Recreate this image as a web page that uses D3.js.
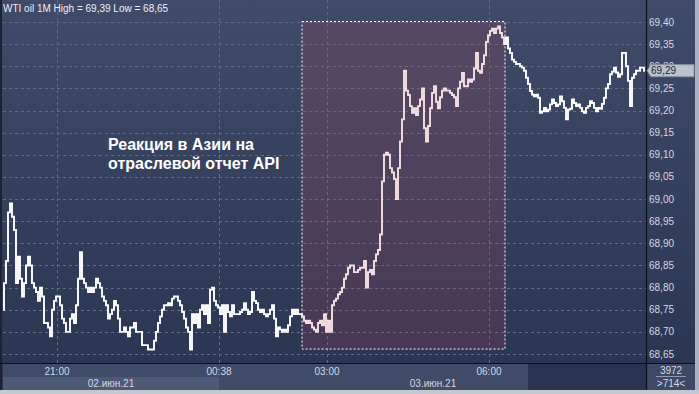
<!DOCTYPE html>
<html>
<head>
<meta charset="utf-8">
<script src="https://cdn.jsdelivr.net/npm/d3@7"></script>
<style>
  html, body { margin: 0; padding: 0; background: #2b3550; }
  svg { display: block; font-family: "Liberation Sans", Arial, sans-serif; }
</style>
</head>
<body>
<svg width="699" height="394"></svg>
<script>
// WTI 1-minute closes, one value per bar
const prices = [
  68.75, 68.81, 68.86, 68.97, 68.99, 68.96, 68.93, 68.81, 68.87, 68.82,
  68.78, 68.81, 68.85, 68.87, 68.85, 68.81, 68.80, 68.79, 68.77, 68.80,
  68.78, 68.72, 68.72, 68.71, 68.69, 68.75, 68.77, 68.78, 68.78, 68.76,
  68.73, 68.72, 68.70, 68.70, 68.73, 68.74, 68.72, 68.76, 68.82, 68.88,
  68.82, 68.81, 68.80, 68.79, 68.80, 68.79, 68.80, 68.82, 68.81, 68.80,
  68.78, 68.77, 68.76, 68.73, 68.74, 68.75, 68.77, 68.76, 68.73, 68.70,
  68.70, 68.71, 68.70, 68.69, 68.71, 68.71, 68.72, 68.70, 68.70, 68.70,
  68.67, 68.67, 68.67, 68.66, 68.66, 68.66, 68.68, 68.70, 68.72,
  68.735, 68.75, 68.76, 68.76, 68.765, 68.76, 68.775, 68.78, 68.78, 68.77,
  68.76, 68.745, 68.73, 68.71, 68.70, 68.66, 68.74, 68.72, 68.74, 68.71,
  68.75, 68.76, 68.74, 68.76, 68.72, 68.795, 68.80, 68.77, 68.76, 68.755,
  68.74, 68.76, 68.70, 68.76, 68.745, 68.735, 68.76, 68.74, 68.74, 68.74,
  68.745, 68.75, 68.765, 68.75, 68.74, 68.745, 68.79, 68.77, 68.765, 68.75,
  68.745, 68.75, 68.74, 68.735, 68.74, 68.75, 68.76, 68.73, 68.69, 68.71,
  68.705, 68.70, 68.705, 68.70, 68.715, 68.735, 68.75, 68.74, 68.75, 68.74,
  68.74, 68.735,
  68.725, 68.72, 68.725, 68.72, 68.71, 68.705, 68.70, 68.72, 68.725, 68.715,
  68.74, 68.70, 68.725, 68.70, 68.76, 68.77, 68.775, 68.785, 68.79, 68.80,
  68.82, 68.83, 68.845, 68.85, 68.85, 68.835, 68.835, 68.84, 68.845, 68.845,
  68.86, 68.80, 68.835, 68.84, 68.83, 68.86, 68.875, 68.885, 68.92, 69.04,
  69.10, 69.105, 69.10,
  69.07, 69.06, 69.045, 69.00, 69.07, 69.13, 69.18, 69.29, 69.245, 69.235,
  69.21, 69.195, 69.205, 69.19, 69.21, 69.225, 69.25, 69.16, 69.13, 69.165,
  69.205, 69.24, 69.255, 69.22, 69.205, 69.23, 69.245, 69.25, 69.245, 69.245,
  69.24, 69.235, 69.23, 69.21, 69.25, 69.265, 69.285, 69.255, 69.255, 69.27,
  69.265, 69.27, 69.295, 69.33, 69.29, 69.285, 69.305, 69.325, 69.355, 69.37,
  69.38, 69.385, 69.375, 69.385, 69.39, 69.375, 69.365, 69.35, 69.365, 69.34,
  69.33, 69.315, 69.31, 69.305,
  69.305, 69.30, 69.297, 69.29, 69.274, 69.26, 69.244, 69.236, 69.232, 69.236,
  69.229, 69.195, 69.198, 69.206, 69.198, 69.202, 69.214, 69.225, 69.217, 69.21,
  69.214, 69.232, 69.221, 69.206, 69.18, 69.202, 69.204, 69.225, 69.217, 69.21,
  69.214, 69.206, 69.198, 69.195, 69.206, 69.21, 69.221, 69.217, 69.206, 69.198,
  69.206, 69.204, 69.215, 69.229, 69.25, 69.26, 69.282, 69.288, 69.297, 69.286,
  69.276, 69.282, 69.33, 69.33, 69.30, 69.267, 69.21, 69.274, 69.282, 69.29,
  69.29, 69.297, 69.297, 69.29
]

const priceTicks = [69.40, 69.35, 69.30, 69.25, 69.20, 69.15, 69.10, 69.05,
  69.00, 68.95, 68.90, 68.85, 68.80, 68.75, 68.70, 68.65]
const timeTickIdx = [27, 108, 162, 243]
const timeTickLabels = ["21:00", "00:38", "03:00", "06:00"]
const dateIdx = [54, 215]
const dateLabels = ["02.июн.21", "03.июн.21"]
const dayBreakIdx = 108

const title = "WTI oil 1M High = 69,39 Low = 68,65"
const lastPrice = 69.29
const highlightIdx = [149.5, 251]
const highlightPrice = [68.66, 69.40]
const noteLines = ["Реакция в Азии на", "отраслевой отчет API"]
const counters = ["3972", ">714<"]

const svg = d3.select("svg")
const W = +svg.attr("width")
const H = +svg.attr("height")
const plot = { left: 3, right: 646, top: 0, bottom: 363 }

const x = d3.scaleLinear().domain([0, prices.length - 1]).range([3, 645])
const y = d3.scaleLinear().domain([68.65, 69.40]).range([354, 22])
const fmt = (v) => d3.format(".2f")(v).replace(".", ",")

const defs = svg.append("defs")
const bg = defs.append("linearGradient").attr("id", "bg").attr("x1", 0).attr("x2", 0).attr("y1", 0).attr("y2", 1)
bg.append("stop").attr("offset", 0).attr("stop-color", "#3f4b68")
bg.append("stop").attr("offset", 1).attr("stop-color", "#2b3652")

// backgrounds
svg.append("rect").attr("width", W).attr("height", H).attr("fill", "#2b3550")
svg.append("rect").attr("x", 0).attr("y", 0).attr("width", 695).attr("height", plot.bottom)
  .attr("fill", "url(#bg)")

// bottom time strip
svg.append("rect").attr("x", plot.left).attr("y", plot.bottom + 1).attr("width", 525).attr("height", 26)
  .attr("fill", "#3f4b67")
svg.append("rect").attr("x", plot.left).attr("y", 377).attr("width", x(dayBreakIdx) - plot.left).attr("height", 13)
  .attr("fill", "#4d5a76")
svg.append("rect").attr("x", 528).attr("y", plot.bottom + 1).attr("width", plot.right - 528).attr("height", 26)
  .attr("fill", "#2a3450")
svg.append("rect").attr("x", plot.right + 1).attr("y", plot.bottom + 1).attr("width", 695 - plot.right - 1).attr("height", 26)
  .attr("fill", "#3d4965")

// grid
const grid = svg.append("g").attr("stroke", "#5d6c88").attr("stroke-dasharray", "3,3").attr("stroke-width", 1)
grid.selectAll(".h").data(priceTicks).join("line")
  .attr("x1", plot.left).attr("x2", plot.right)
  .attr("y1", (d) => Math.round(y(d)) + 0.5).attr("y2", (d) => Math.round(y(d)) + 0.5)
grid.selectAll(".v").data(timeTickIdx).join("line")
  .attr("x1", (d) => Math.round(x(d)) + 0.5).attr("x2", (d) => Math.round(x(d)) + 0.5)
  .attr("y1", 0).attr("y2", plot.bottom)

// price line
const line = d3.line().x((d, i) => x(i)).y((d) => y(d)).curve(d3.curveStep)
svg.append("path").datum(prices).attr("d", line)
  .attr("fill", "none").attr("stroke", "#ffffff").attr("stroke-width", 1.9)

// highlight box drawn over the line
svg.append("rect")
  .attr("x", x(highlightIdx[0])).attr("y", y(highlightPrice[1]) - 0.5)
  .attr("width", x(highlightIdx[1]) - x(highlightIdx[0]))
  .attr("height", y(highlightPrice[0]) - y(highlightPrice[1]))
  .attr("fill", "rgba(205,70,95,0.17)")
  .attr("stroke", "#ffffff").attr("stroke-width", 1).attr("stroke-dasharray", "2,2")

// frame lines
svg.append("rect").attr("x", 0).attr("y", 0).attr("width", 2).attr("height", 390).attr("fill", "#1d2334")
svg.append("line").attr("x1", plot.right + 0.5).attr("x2", plot.right + 0.5).attr("y1", 0).attr("y2", 390)
  .attr("stroke", "#0c0f18").attr("stroke-width", 1.2)
svg.append("line").attr("x1", 0).attr("x2", 695).attr("y1", plot.bottom + 0.5).attr("y2", plot.bottom + 0.5)
  .attr("stroke", "#0c0f18").attr("stroke-width", 1.2)
svg.append("rect").attr("x", 695).attr("y", 0).attr("width", 4).attr("height", H).attr("fill", "#aab1bf")
svg.append("rect").attr("x", 0).attr("y", 390).attr("width", W).attr("height", 4).attr("fill", "#c3c7cf")

// right price axis
const ly = y(lastPrice)
svg.append("g").attr("font-size", 10).attr("fill", "#d3d9e3")
  .selectAll("text").data(priceTicks).join("text")
  .attr("x", 649).attr("y", (d) => y(d)).attr("dy", "0.35em").text(fmt)

// last price marker, drawn over the tick it hides
svg.append("path")
  .attr("d", `M${plot.right + 1},${ly} L${plot.right + 5},${ly - 6} H694 V${ly + 6} H${plot.right + 5} Z`)
  .attr("fill", "#bcc2cc").attr("stroke", "#8a93a3")
svg.append("text").attr("x", 651).attr("y", ly).attr("dy", "0.35em")
  .attr("font-size", 10).attr("fill", "#1c2438").text(fmt(lastPrice))

// time axis
svg.append("g").attr("font-size", 10).attr("fill", "#d3d9e3").attr("text-anchor", "middle")
  .selectAll("text").data(timeTickIdx).join("text")
  .attr("x", (d) => x(d)).attr("y", 375).text((d, i) => timeTickLabels[i])
svg.append("g").attr("font-size", 10).attr("fill", "#d3d9e3").attr("text-anchor", "middle")
  .selectAll("text").data(dateIdx).join("text")
  .attr("x", (d) => x(d)).attr("y", 387).text((d, i) => dateLabels[i])

// counters box
svg.append("text").attr("x", 671).attr("y", 374).attr("text-anchor", "middle")
  .attr("font-size", 10).attr("fill", "#d3d9e3").text(counters[0])
svg.append("line").attr("x1", 656).attr("x2", 686).attr("y1", 376.5).attr("y2", 376.5).attr("stroke", "#8f99ab")
svg.append("text").attr("x", 671).attr("y", 387).attr("text-anchor", "middle")
  .attr("font-size", 10).attr("fill", "#d3d9e3").text(counters[1])

// title
svg.append("text").attr("x", 3).attr("y", 12).attr("font-size", 10).attr("fill", "#eef0f4").text(title)

// annotation
svg.append("g").attr("font-size", 16).attr("font-weight", "bold").attr("fill", "#ffffff")
  .selectAll("text").data(noteLines).join("text")
  .attr("x", 108).attr("y", (d, i) => 150 + i * 19).text((d) => d)
</script>
</body>
</html>
